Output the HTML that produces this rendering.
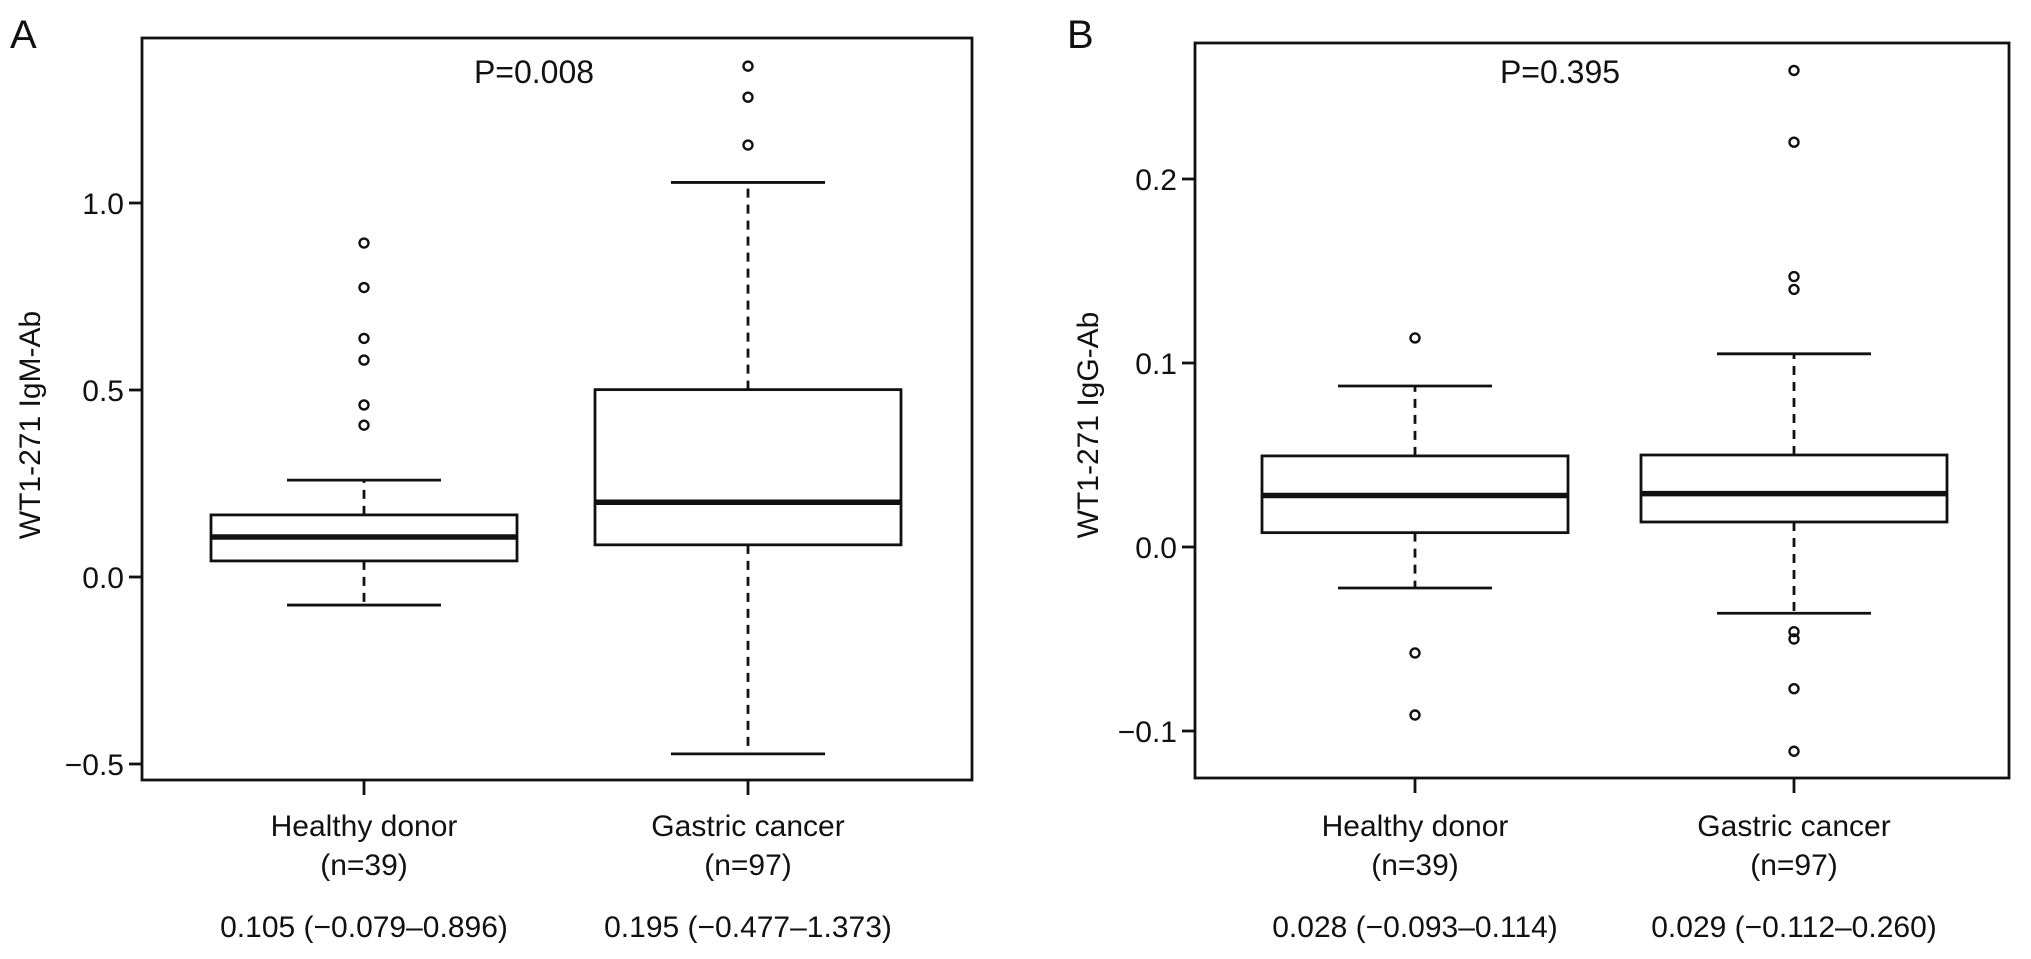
<!DOCTYPE html>
<html><head><meta charset="utf-8"><style>
html,body{margin:0;padding:0;background:#fff}
svg{display:block;font-family:"Liberation Sans",Arial,sans-serif}
</style></head><body>
<svg id="c" width="2031" height="959" viewBox="0 0 2031 959"></svg>
<script>
const categories = ["Healthy donor","Gastric cancer"];
const nLabels = ["(n=39)","(n=97)"];
const statsA = ["0.105 (\u22120.079\u20130.896)","0.195 (\u22120.477\u20131.373)"];
const statsB = ["0.028 (\u22120.093\u20130.114)","0.029 (\u22120.112\u20130.260)"];
const ticksA = [-0.5,0,0.5,1.0];
const tickLabelsA = ["\u22120.5","0.0","0.5","1.0"];
const ticksB = [-0.1,0,0.1,0.2];
const tickLabelsB = ["\u22120.1","0.0","0.1","0.2"];
// [lowerWhisker, Q1, median, Q3, upperWhisker]
const boxesA = [[-0.075,0.043,0.107,0.166,0.259],[-0.473,0.086,0.2,0.501,1.055]];
const outliersA = [[0.893,0.774,0.638,0.580,0.46,0.406],[1.366,1.283,1.155]];
const boxesB = [[-0.0223,0.0078,0.028,0.0495,0.0875],[-0.036,0.0136,0.029,0.050,0.105]];
const outliersB = [[0.1136,-0.0576,-0.0913],[0.259,0.22,0.147,0.14,-0.046,-0.05,-0.077,-0.111]];

const svg=document.getElementById('c');
const NS='http://www.w3.org/2000/svg';
function mk(tag,attrs,parent){const e=document.createElementNS(NS,tag);for(const k in attrs)e.setAttribute(k,attrs[k]);(parent||svg).appendChild(e);return e;}
function txt(s,x,y,size,anchor,parent){const t=mk('text',{x:x,y:y,'font-size':size,'text-anchor':anchor||'middle',fill:'#111'},parent);t.textContent=s;return t;}

function panel(cfg){
  const g=mk('g',{});
  
  
  const y=v=>cfg.y0-(v)*cfg.ppu;
  const fr=mk('rect',{x:cfg.left,y:cfg.top,width:cfg.right-cfg.left,height:cfg.bottom-cfg.top,fill:'none',stroke:'#111','stroke-width':2.8},g);
  
  
  cfg.ticks.forEach((t,i)=>{
    const l=mk('line',{x1:cfg.left-13,x2:cfg.left,y1:y(t),y2:y(t),stroke:'#111','stroke-width':2.8},g);
    
    
    const tl=txt(cfg.tickLabels[i],cfg.left-18,y(t)+11,30,'end',g);
    
    
  });
  const yt=txt(cfg.ytitle,0,0,30,'middle',g);
  yt.setAttribute('transform','translate('+cfg.ytx+',425) rotate(-90)');
  
  
  const pl=txt(cfg.p,cfg.px,83,32,'middle',g);
  
  
  const lab=txt(cfg.letter,cfg.lx,48,40,'start',g);
  
  
  cfg.boxes.forEach((b,i)=>{
    const cx=cfg.centers[i], hw=153, cw=77;
    const bg=mk('g',{},g);
    
    
    mk('line',{x1:cx,x2:cx,y1:y(b[3]),y2:y(b[4]),stroke:'#111','stroke-width':2.8,'stroke-dasharray':'9,7'},bg);
    mk('line',{x1:cx,x2:cx,y1:y(b[1]),y2:y(b[0]),stroke:'#111','stroke-width':2.8,'stroke-dasharray':'9,7'},bg);
    mk('line',{x1:cx-cw,x2:cx+cw,y1:y(b[4]),y2:y(b[4]),stroke:'#111','stroke-width':2.8},bg);
    mk('line',{x1:cx-cw,x2:cx+cw,y1:y(b[0]),y2:y(b[0]),stroke:'#111','stroke-width':2.8},bg);
    mk('rect',{x:cx-hw,y:y(b[3]),width:2*hw,height:y(b[1])-y(b[3]),fill:'#fff',stroke:'#111','stroke-width':2.8},bg);
    mk('line',{x1:cx-hw,x2:cx+hw,y1:y(b[2]),y2:y(b[2]),stroke:'#111','stroke-width':5.5},bg);
    cfg.outliers[i].forEach(v=>{
      const c=mk('circle',{cx:cx,cy:y(v),r:4.5,fill:'none',stroke:'#111','stroke-width':2.4},bg);
      
      
    });
    const xt=mk('line',{x1:cx,x2:cx,y1:cfg.bottom,y2:cfg.bottom+15,stroke:'#111','stroke-width':2.8},g);
    
    
    const c1=txt(categories[i],cx,836,30,'middle',g);
    
    
    const c2=txt(nLabels[i],cx,875,30,'middle',g);
    
    
    const c3=txt(cfg.stats[i],cx,937,30,'middle',g);
    
    
  });
}
panel({name:'panel-a',letter:'A',lx:10,left:142,right:972,top:38,bottom:780,y0:577,ppu:374,
  ticks:ticksA,tickLabels:tickLabelsA,ytitle:'WT1-271 IgM-Ab',ytx:40,p:'P=0.008',px:534,
  centers:[364,748],boxes:boxesA,outliers:outliersA,stats:statsA});
panel({name:'panel-b',letter:'B',lx:1067,left:1195,right:2009,top:43,bottom:778,y0:547,ppu:1840,
  ticks:ticksB,tickLabels:tickLabelsB,ytitle:'WT1-271 IgG-Ab',ytx:1098,p:'P=0.395',px:1560,
  centers:[1415,1794],boxes:boxesB,outliers:outliersB,stats:statsB});
</script>
</body></html>
